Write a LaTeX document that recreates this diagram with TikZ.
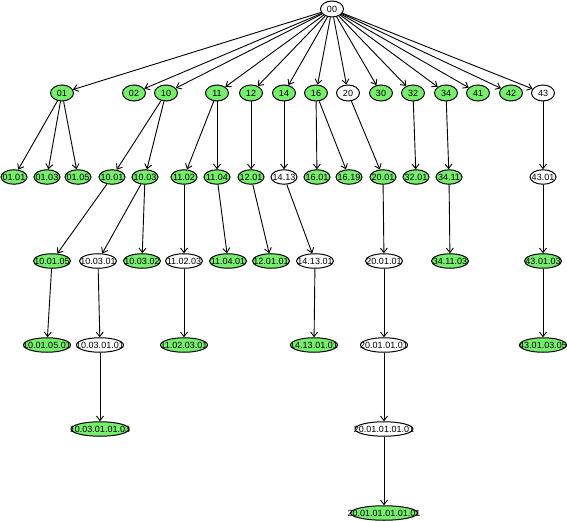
\documentclass[tikz,border=0pt]{standalone}
\usepackage{fontspec}
\setmainfont{Liberation Sans}
\usetikzlibrary{arrows.meta,shapes.geometric}
\definecolor{leaf}{RGB}{118,238,108}
\newcommand{\lbl}[1]{\makebox[0pt]{#1}}
\tikzset{
	knoop/.style={ellipse, draw, line width=1pt, inner sep=0pt, minimum width=23pt, minimum height=16pt, font=\fontsize{9}{10}\selectfont},
	vert/.style={knoop, fill=leaf},
	wit/.style={knoop, fill=white},
	lv2/.style={minimum width=26pt, minimum height=14.5pt},
	lv3/.style={minimum width=37pt, minimum height=14.5pt},
	lv4/.style={minimum width=47pt, minimum height=14.5pt},
	lv5/.style={minimum width=58pt, minimum height=14.5pt},
	lv6/.style={minimum width=67pt, minimum height=14.5pt},
	pijl/.style={line width=0.9pt, -{Straight Barb[length=4.5pt,width=7pt]}}
}
\begin{document}
\begin{tikzpicture}[x=1pt, y=-1pt]
	\useasboundingbox (0,0) rectangle (567,521);

	\node[wit] (n00) at (332,9) {\lbl{00}};

	\node[vert] (n01) at (62,93) {\lbl{01}};
	\node[vert] (n02) at (134,93) {\lbl{02}};
	\node[vert] (n10) at (166,93) {\lbl{10}};
	\node[vert] (n11) at (217,93) {\lbl{11}};
	\node[vert] (n12) at (251,93) {\lbl{12}};
	\node[vert] (n14) at (284,93) {\lbl{14}};
	\node[vert] (n16) at (316,93) {\lbl{16}};
	\node[wit] (n20) at (348,93) {\lbl{20}};
	\node[vert] (n30) at (381,93) {\lbl{30}};
	\node[vert] (n32) at (413,93) {\lbl{32}};
	\node[vert] (n34) at (446,93) {\lbl{34}};
	\node[vert] (n41) at (478,93) {\lbl{41}};
	\node[vert] (n42) at (511,93) {\lbl{42}};
	\node[wit] (n43) at (543,93) {\lbl{43}};

	\node[vert, lv2] (n0101) at (14,177) {\lbl{01.01}};
	\node[vert, lv2] (n0103) at (47,177) {\lbl{01.03}};
	\node[vert, lv2] (n0105) at (78,177) {\lbl{01.05}};
	\node[vert, lv2] (n1001) at (112,177) {\lbl{10.01}};
	\node[vert, lv2] (n1003) at (145,177) {\lbl{10.03}};
	\node[vert, lv2] (n1102) at (184,177) {\lbl{11.02}};
	\node[vert, lv2] (n1104) at (217,177) {\lbl{11.04}};
	\node[vert, lv2] (n1201) at (251,177) {\lbl{12.01}};
	\node[wit, lv2] (n1413) at (284,177) {\lbl{14.13}};
	\node[vert, lv2] (n1601) at (317,177) {\lbl{16.01}};
	\node[vert, lv2] (n1619) at (349,177) {\lbl{16.19}};
	\node[vert, lv2] (n2001) at (383,177) {\lbl{20.01}};
	\node[vert, lv2] (n3201) at (416,177) {\lbl{32.01}};
	\node[vert, lv2] (n3411) at (449,177) {\lbl{34.11}};
	\node[wit, lv2] (n4301) at (543,177) {\lbl{43.01}};

	\node[vert, lv3] (n100105) at (52,261) {\lbl{10.01.05}};
	\node[wit, lv3] (n100301) at (98,261) {\lbl{10.03.01}};
	\node[vert, lv3] (n100302) at (142,261) {\lbl{10.03.02}};
	\node[wit, lv3] (n110203) at (184,261) {\lbl{11.02.03}};
	\node[vert, lv3] (n110401) at (228,261) {\lbl{11.04.01}};
	\node[vert, lv3] (n120101) at (271,261) {\lbl{12.01.01}};
	\node[wit, lv3] (n141301) at (315,261) {\lbl{14.13.01}};
	\node[wit, lv3] (n200101) at (384,261) {\lbl{20.01.01}};
	\node[vert, lv3] (n341103) at (450,261) {\lbl{34.11.03}};
	\node[vert, lv3] (n430103) at (543,261) {\lbl{43.01.03}};

	\node[vert, lv4] (n10010501) at (47,345) {\lbl{10.01.05.01}};
	\node[wit, lv4] (n10030101) at (100,345) {\lbl{10.03.01.01}};
	\node[vert, lv4] (n11020301) at (184,345) {\lbl{11.02.03.01}};
	\node[vert, lv4] (n14130101) at (314,345) {\lbl{14.13.01.01}};
	\node[wit, lv4] (n20010101) at (384,345) {\lbl{20.01.01.01}};
	\node[vert, lv4] (n43010305) at (543,345) {\lbl{43.01.03.05}};

	\node[vert, lv5] (n1003010103) at (100,429) {\lbl{10.03.01.01.03}};
	\node[wit, lv5] (n2001010101) at (384,429) {\lbl{20.01.01.01.01}};

	\node[vert, lv6] (n200101010101) at (384,513) {\lbl{20.01.01.01.01.01}};

	\foreach \k in {01,02,10,11,12,14,16,20,30,32,34,41,42,43}
		\draw[pijl] (n00) -- (n\k);

	\draw[pijl] (n01) -- (n0101);
	\draw[pijl] (n01) -- (n0103);
	\draw[pijl] (n01) -- (n0105);
	\draw[pijl] (n10) -- (n1001);
	\draw[pijl] (n10) -- (n1003);
	\draw[pijl] (n11) -- (n1102);
	\draw[pijl] (n11) -- (n1104);
	\draw[pijl] (n12) -- (n1201);
	\draw[pijl] (n14) -- (n1413);
	\draw[pijl] (n16) -- (n1601);
	\draw[pijl] (n16) -- (n1619);
	\draw[pijl] (n20) -- (n2001);
	\draw[pijl] (n32) -- (n3201);
	\draw[pijl] (n34) -- (n3411);
	\draw[pijl] (n43) -- (n4301);

	\draw[pijl] (n1001) -- (n100105);
	\draw[pijl] (n1003) -- (n100301);
	\draw[pijl] (n1003) -- (n100302);
	\draw[pijl] (n1102) -- (n110203);
	\draw[pijl] (n1104) -- (n110401);
	\draw[pijl] (n1201) -- (n120101);
	\draw[pijl] (n1413) -- (n141301);
	\draw[pijl] (n2001) -- (n200101);
	\draw[pijl] (n3411) -- (n341103);
	\draw[pijl] (n4301) -- (n430103);

	\draw[pijl] (n100105) -- (n10010501);
	\draw[pijl] (n100301) -- (n10030101);
	\draw[pijl] (n110203) -- (n11020301);
	\draw[pijl] (n141301) -- (n14130101);
	\draw[pijl] (n200101) -- (n20010101);
	\draw[pijl] (n430103) -- (n43010305);

	\draw[pijl] (n10030101) -- (n1003010103);
	\draw[pijl] (n20010101) -- (n2001010101);
	\draw[pijl] (n2001010101) -- (n200101010101);
\end{tikzpicture}
\end{document}
